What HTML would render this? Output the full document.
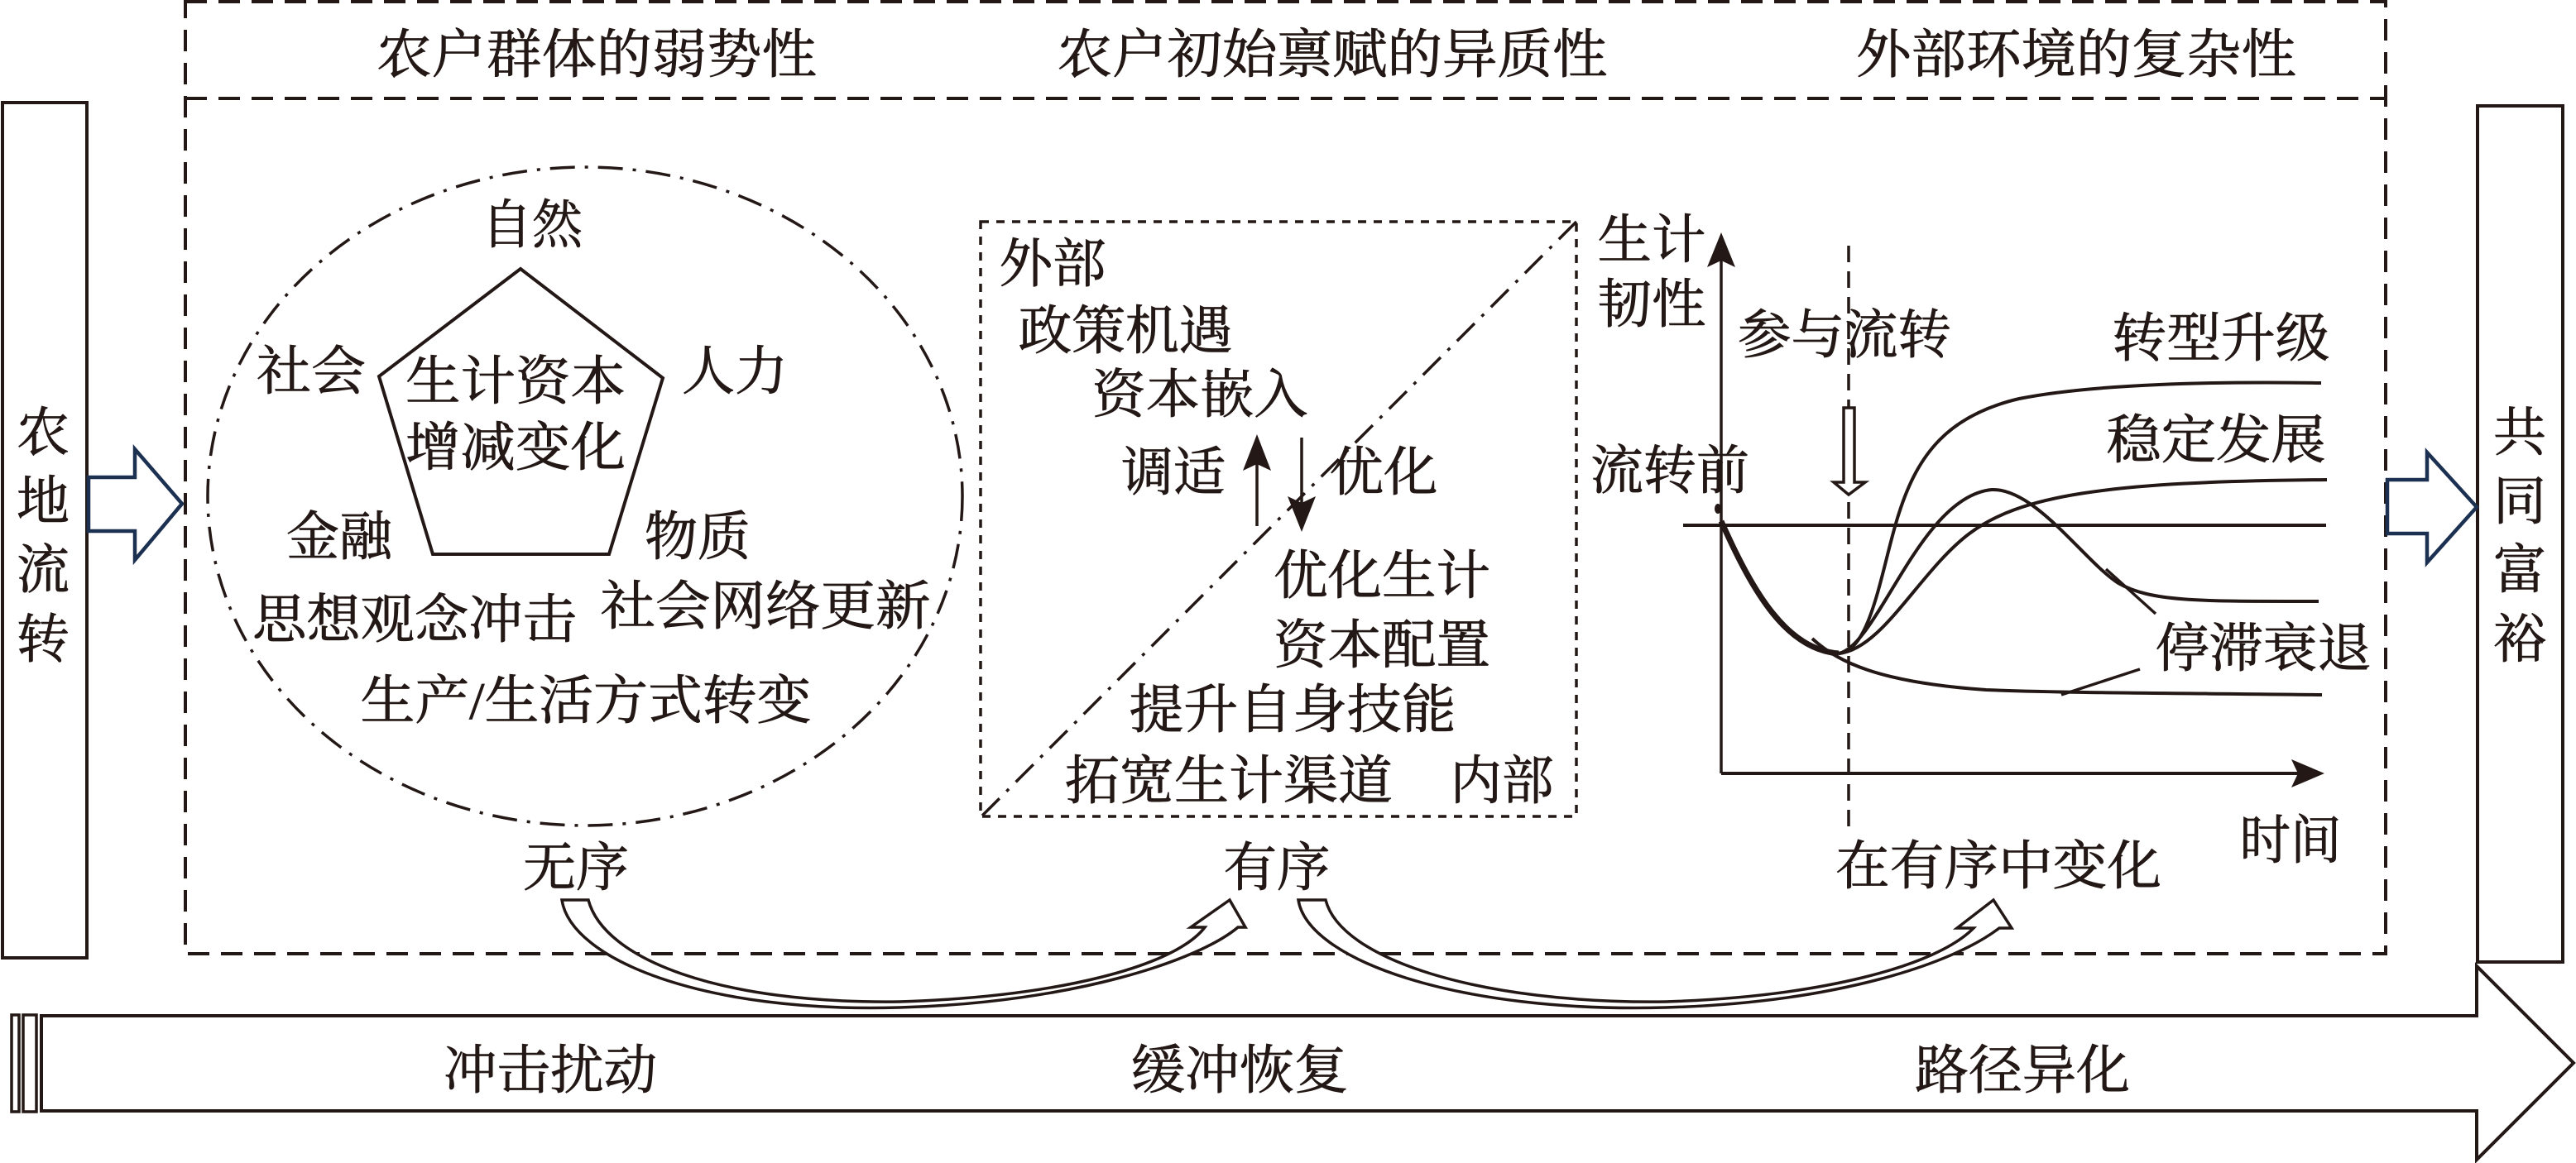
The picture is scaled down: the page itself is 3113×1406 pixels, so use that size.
<!DOCTYPE html>
<html><head><meta charset="utf-8"><style>
html,body{margin:0;padding:0;background:#fff;}
svg{display:block;}
text{font-family:"Liberation Serif","Noto Serif CJK SC",serif;font-size:64px;fill:#231815;stroke:#231815;stroke-width:0.8;}
</style></head><body>
<svg width="3113" height="1406" viewBox="0 0 3113 1406" xmlns="http://www.w3.org/2000/svg">
<g fill="none" stroke="#231815">
  <!-- outer dashed box -->
  <rect x="224" y="2" width="2659" height="1151" stroke-width="4" stroke-dasharray="26 14"/>
  <line x1="224" y1="119" x2="2883" y2="119" stroke-width="4" stroke-dasharray="26 14"/>
  <!-- left / right boxes -->
  <rect x="3" y="124" width="102" height="1034" stroke-width="4"/>
  <rect x="2994" y="128" width="103" height="1035" stroke-width="4"/>
  <!-- dash-dot ellipse -->
  <ellipse cx="707" cy="600" rx="456" ry="398" stroke-width="3.5" stroke-dasharray="30 12 4 12"/>
  <!-- pentagon -->
  <polygon points="629,325 801,457 736,670 523,670 458,455" stroke-width="4"/>
  <!-- inner dotted box -->
  <rect x="1185" y="268" width="720" height="719" stroke-width="3.5" stroke-dasharray="10 9"/>
  <line x1="1905" y1="268" x2="1187" y2="986" stroke-width="3.5" stroke-dasharray="30 12 4 12"/>
  <!-- mid arrows -->
  <line x1="1519" y1="636" x2="1519" y2="560" stroke-width="3.5"/>
  <line x1="1573" y1="529" x2="1573" y2="610" stroke-width="3.5"/>
  <!-- graph -->
  <line x1="2080" y1="935" x2="2080" y2="305" stroke-width="3.5"/>
  <line x1="2080" y1="935" x2="2778" y2="935" stroke-width="4"/>
  <line x1="2234" y1="297" x2="2234" y2="1010" stroke-width="3.5" stroke-dasharray="20 11"/>
  <line x1="2034" y1="635" x2="2811" y2="635" stroke-width="4"/>
  <path d="M2080 630 C2120 720,2160 785,2222 790" stroke-width="7"/>
  <path d="M2222 790 C2262 788,2275 680,2295 620 C2318 548,2355 502,2440 482 C2530 464,2680 461,2805 463" stroke-width="4"/>
  <path d="M2222 790 C2270 780,2320 600,2407 592 C2460 590,2520 680,2560 705 C2600 728,2660 727,2802 727" stroke-width="4"/>
  <path d="M2222 790 C2275 785,2320 690,2380 645 C2440 600,2540 582,2812 580" stroke-width="4"/>
  <path d="M2190 772 C2220 800,2270 825,2400 834 C2500 838,2650 838,2806 840" stroke-width="4"/>
  <line x1="2545" y1="688" x2="2605" y2="742" stroke-width="3.5"/>
  <line x1="2586" y1="809" x2="2491" y2="840" stroke-width="3.5"/>
  <!-- bottom big arrow -->
  <path d="M50 1228 L2993 1228 L2993 1168 L3110 1285 L2993 1402 L2993 1343 L50 1343 Z" stroke-width="4"/>
  <rect x="14" y="1227" width="9" height="117" stroke-width="3.5"/>
  <rect x="28" y="1227" width="16" height="117" stroke-width="3.5"/>
</g>
<!-- filled arrowheads -->
<g fill="#231815" stroke="none">
  <polygon points="1519,525 1536,569 1519,561 1502,569"/>
  <polygon points="1573,643 1590,600 1573,608 1556,600"/>
  <polygon points="2080,281 2097,323 2080,315 2063,323"/>
  <polygon points="2809,935 2769,952 2777,935 2769,918"/>
  <ellipse cx="2076" cy="615" rx="4" ry="6"/>
</g>
<!-- hollow arrows -->
<g fill="#fff" stroke="#1c3152" stroke-width="4.5" stroke-linejoin="miter">
  <polygon points="107,577 163,577 163,543 220,609 163,677 163,642 107,642"/>
  <polygon points="2885,580 2933,580 2933,547 2993,613 2933,680 2933,645 2885,645"/>
</g>
<g fill="#fff" stroke="#231815" stroke-width="3.5">
  <polygon points="2228,493 2241,493 2241,583 2254,583 2234,598 2216,583 2228,583"/>
  <path d="M679 1088 C690 1160,850 1225,1087 1218 C1300 1212,1450 1160,1496 1121 L1505 1121 L1486 1088 L1439 1121 L1456 1121 C1420 1168,1280 1205,1087 1211 C870 1214,730 1160,711 1088 Z"/>
  <path d="M1569 1088 C1580 1160,1760 1225,2013 1218 C2220 1212,2360 1165,2416 1122 L2431 1122 L2409 1088 L2365 1122 L2385 1122 C2340 1168,2200 1205,2013 1211 C1790 1214,1620 1160,1602 1088 Z"/>
</g>
<!-- header texts -->
<text x="721" y="88" text-anchor="middle" textLength="532" lengthAdjust="spacingAndGlyphs">农户群体的弱势性</text>
<text x="1610" y="88" text-anchor="middle" textLength="665" lengthAdjust="spacingAndGlyphs">农户初始禀赋的异质性</text>
<text x="2509" y="88" text-anchor="middle" textLength="532" lengthAdjust="spacingAndGlyphs">外部环境的复杂性</text>
<!-- vertical texts -->
<text x="52" y="545" text-anchor="middle">农</text>
<text x="52" y="628" text-anchor="middle">地</text>
<text x="52" y="711" text-anchor="middle">流</text>
<text x="52" y="795" text-anchor="middle">转</text>
<text x="3045" y="545" text-anchor="middle">共</text>
<text x="3045" y="628" text-anchor="middle">同</text>
<text x="3045" y="711" text-anchor="middle">富</text>
<text x="3045" y="795" text-anchor="middle">裕</text>
<!-- circle texts -->
<text x="643" y="294" text-anchor="middle" textLength="122" lengthAdjust="spacingAndGlyphs">自然</text>
<text x="376" y="471" text-anchor="middle" textLength="132" lengthAdjust="spacingAndGlyphs">社会</text>
<text x="888" y="471" text-anchor="middle" textLength="128" lengthAdjust="spacingAndGlyphs">人力</text>
<text x="623" y="483" text-anchor="middle" textLength="266" lengthAdjust="spacingAndGlyphs">生计资本</text>
<text x="623" y="563" text-anchor="middle" textLength="266" lengthAdjust="spacingAndGlyphs">增减变化</text>
<text x="410" y="671" text-anchor="middle" textLength="128" lengthAdjust="spacingAndGlyphs">金融</text>
<text x="843" y="671" text-anchor="middle" textLength="128" lengthAdjust="spacingAndGlyphs">物质</text>
<text x="501" y="771" text-anchor="middle" textLength="392" lengthAdjust="spacingAndGlyphs">思想观念冲击</text>
<text x="925" y="755" text-anchor="middle" textLength="399" lengthAdjust="spacingAndGlyphs">社会网络更新</text>
<text x="708" y="869" text-anchor="middle" textLength="545" lengthAdjust="spacingAndGlyphs">生产/生活方式转变</text>
<text x="696" y="1071" text-anchor="middle" textLength="128" lengthAdjust="spacingAndGlyphs">无序</text>
<!-- inner box texts -->
<text x="1272" y="341" text-anchor="middle" textLength="129" lengthAdjust="spacingAndGlyphs">外部</text>
<text x="1360" y="422" text-anchor="middle" textLength="259" lengthAdjust="spacingAndGlyphs">政策机遇</text>
<text x="1450" y="499" text-anchor="middle" textLength="261" lengthAdjust="spacingAndGlyphs">资本嵌入</text>
<text x="1418" y="593" text-anchor="middle" textLength="126" lengthAdjust="spacingAndGlyphs">调适</text>
<text x="1672" y="593" text-anchor="middle" textLength="131" lengthAdjust="spacingAndGlyphs">优化</text>
<text x="1670" y="718" text-anchor="middle" textLength="262" lengthAdjust="spacingAndGlyphs">优化生计</text>
<text x="1670" y="802" text-anchor="middle" textLength="262" lengthAdjust="spacingAndGlyphs">资本配置</text>
<text x="1562" y="880" text-anchor="middle" textLength="395" lengthAdjust="spacingAndGlyphs">提升自身技能</text>
<text x="1485" y="966" text-anchor="middle" textLength="396" lengthAdjust="spacingAndGlyphs">拓宽生计渠道</text>
<text x="1815" y="966" text-anchor="middle" textLength="125" lengthAdjust="spacingAndGlyphs">内部</text>
<text x="1543" y="1071" text-anchor="middle" textLength="129" lengthAdjust="spacingAndGlyphs">有序</text>
<!-- graph texts -->
<text x="1996" y="312" text-anchor="middle" textLength="131" lengthAdjust="spacingAndGlyphs">生计</text>
<text x="1996" y="390" text-anchor="middle" textLength="131" lengthAdjust="spacingAndGlyphs">韧性</text>
<text x="2229" y="427" text-anchor="middle" textLength="258" lengthAdjust="spacingAndGlyphs">参与流转</text>
<text x="2018" y="591" text-anchor="middle" textLength="192" lengthAdjust="spacingAndGlyphs">流转前</text>
<text x="2684" y="431" text-anchor="middle" textLength="263" lengthAdjust="spacingAndGlyphs">转型升级</text>
<text x="2678" y="554" text-anchor="middle" textLength="265" lengthAdjust="spacingAndGlyphs">稳定发展</text>
<text x="2735" y="806" text-anchor="middle" textLength="261" lengthAdjust="spacingAndGlyphs">停滞衰退</text>
<text x="2768" y="1038" text-anchor="middle" textLength="123" lengthAdjust="spacingAndGlyphs">时间</text>
<text x="2415" y="1069" text-anchor="middle" textLength="394" lengthAdjust="spacingAndGlyphs">在有序中变化</text>
<!-- bottom arrow texts -->
<text x="665" y="1316" text-anchor="middle" textLength="258" lengthAdjust="spacingAndGlyphs">冲击扰动</text>
<text x="1498" y="1316" text-anchor="middle" textLength="263" lengthAdjust="spacingAndGlyphs">缓冲恢复</text>
<text x="2444" y="1316" text-anchor="middle" textLength="260" lengthAdjust="spacingAndGlyphs">路径异化</text>
</svg>
</body></html>
